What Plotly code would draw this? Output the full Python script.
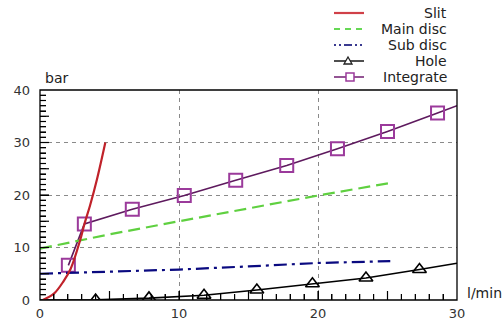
import plotly.graph_objects as go

# Pressure drop vs. flow rate for each flow element
slit_x = [0.2, 1.0, 1.7, 2.2, 2.9, 3.2, 3.6, 4.1, 4.7]
slit_y = [0.0, 1.2, 3.6, 5.9, 11.5, 14.5, 18.0, 23.0, 30.0]

main_x = [0, 5, 10, 15, 20, 25.2]
main_y = [9.8, 12.5, 15.0, 17.5, 19.9, 22.3]

sub_x = [0, 5, 10, 15, 20, 25.2]
sub_y = [5.0, 5.4, 5.8, 6.4, 7.05, 7.4]

hole_x = [0, 2, 4.0, 7.84, 11.8, 15.6, 19.6, 23.45, 27.3, 30]
hole_y = [0, 0, 0.05, 0.35, 0.9, 1.9, 3.1, 4.2, 5.8, 7.0]
hole_mx = [4.0, 7.84, 11.8, 15.6, 19.6, 23.45, 27.3]
hole_my = [0.0, 0.4, 0.9, 1.9, 3.1, 4.2, 5.8]

integ_x = [2.04, 3.19, 6.64, 10.38, 14.08, 17.75, 21.4, 25.0, 28.6, 30]
integ_y = [6.6, 14.5, 17.3, 19.9, 22.8, 25.6, 28.8, 32.1, 35.6, 37.0]
integ_mx = integ_x[:-1]
integ_my = integ_y[:-1]

X_MAX, Y_MAX = 30, 40
X_DTICK, Y_DTICK = 10, 10

legend_names = ["Slit", "Main disc", "Sub disc", "Hole", "Integrate"]

FONT = "DejaVu Sans"
W, H = 503, 325
ML, MR, MT, MB = 40, 46, 90, 25
PX_PER_X = (W - ML - MR) / X_MAX
PX_PER_Y = (H - MT - MB) / Y_MAX

fig = go.Figure()

fig.add_trace(go.Scatter(x=integ_x, y=integ_y, mode="lines",
                         line=dict(color="#5e1a5e", width=1.6)))
fig.add_trace(go.Scatter(x=integ_mx, y=integ_my, mode="markers",
                         marker=dict(symbol="square-open", size=13,
                                     color="#9b3a9b", line=dict(width=2))))
fig.add_trace(go.Scatter(x=main_x, y=main_y, mode="lines",
                         line=dict(color="#5fd040", width=2.2, dash="12px,6px")))
fig.add_trace(go.Scatter(x=sub_x, y=sub_y, mode="lines",
                         line=dict(color="#0a0a80", width=2.2,
                                   dash="13px,5px,3px,5px")))
fig.add_trace(go.Scatter(x=hole_x, y=hole_y, mode="lines",
                         line=dict(color="#000000", width=1.6)))
fig.add_trace(go.Scatter(x=hole_mx, y=hole_my, mode="markers",
                         marker=dict(symbol="triangle-up-open", size=12,
                                     color="#000000", line=dict(width=1.6))))
fig.add_trace(go.Scatter(x=slit_x, y=slit_y, mode="lines",
                         line=dict(color="#c0222a", width=2.2, shape="spline")))

# inward tick marks on the bottom and left edges: every unit, longer every 5
SHORT_PX, LONG_PX = 6, 9
tx, ty = [], []
for v in range(1, X_MAX):
    ln = (LONG_PX if v % 5 == 0 else SHORT_PX) / PX_PER_Y
    tx += [v, v, None]
    ty += [0, ln, None]
for v in range(1, Y_MAX):
    ln = (LONG_PX if v % 5 == 0 else SHORT_PX) / PX_PER_X
    tx += [0, ln, None]
    ty += [v, v, None]
fig.add_trace(go.Scatter(x=tx, y=ty, mode="lines", hoverinfo="skip",
                         line=dict(color="#000000", width=1.2)))

axis_common = dict(showline=False, zeroline=False, automargin=False,
                   ticks="inside", ticklen=LONG_PX, tickcolor="#000000",
                   tickwidth=1,
                   minor=dict(dtick=1, ticks="inside", ticklen=SHORT_PX,
                              tickcolor="#000000", tickwidth=1,
                              showgrid=False),
                   showgrid=True, gridcolor="#8a8a8a", gridwidth=1,
                   griddash="4px,4px",
                   tickfont=dict(family=FONT, size=13, color="#333333"))

fig.update_layout(
    width=W, height=H,
    margin=dict(l=ML, r=MR, t=MT, b=MB, autoexpand=False),
    paper_bgcolor="white", plot_bgcolor="white",
    showlegend=False,
    xaxis=dict(range=[0, X_MAX], dtick=X_DTICK, ticklabelstandoff=4,
               **axis_common),
    yaxis=dict(range=[0, Y_MAX], dtick=Y_DTICK, ticklabelstandoff=9,
               **axis_common),
)


def px_x(p):
    return (p - ML) / (W - ML - MR)


def px_y(p):
    return (H - MB - p) / (H - MT - MB)


annotations = [
    dict(text="bar", x=px_x(43), y=px_y(78), xanchor="left", yanchor="middle"),
    dict(text="l/min", x=px_x(465), y=px_y(293), xanchor="left", yanchor="middle"),
]

# plot frame
shapes = [dict(type="rect", xref="paper", yref="paper", x0=0, x1=1, y0=0, y1=1,
               line=dict(color="#000000", width=1.3), layer="above")]

# legend drawn by hand: symbol on the left, label right-aligned
rows = [13, 29, 45, 61, 77]
sym_x0, sym_x1 = px_x(334), px_x(364)
styles = [
    dict(color="#d04048", width=2.2, dash="solid"),
    dict(color="#66d855", width=2.2, dash="6px,5px"),
    dict(color="#3a3a90", width=2.2, dash="2px,3px,2px,3px,8px,3px"),
    dict(color="#222222", width=1.6, dash="solid"),
    dict(color="#7a2a7a", width=1.6, dash="solid"),
]
for name, ry, st in zip(legend_names, rows, styles):
    yy = px_y(ry)
    shapes.append(dict(type="line", xref="paper", yref="paper",
                       x0=sym_x0, x1=sym_x1, y0=yy, y1=yy, line=st))
    annotations.append(dict(text=name, x=px_x(449), y=yy, xanchor="right",
                            yanchor="middle"))

shapes.append(dict(type="path", xref="paper", yref="paper",
                   xsizemode="pixel", ysizemode="pixel",
                   xanchor=px_x(348), yanchor=px_y(61),
                   path="M -4 -3 L 4 -3 L 0 4 Z",
                   fillcolor="white", line=dict(color="#222222", width=1.3)))
shapes.append(dict(type="rect", xref="paper", yref="paper",
                   xsizemode="pixel", ysizemode="pixel",
                   xanchor=px_x(350), yanchor=px_y(77),
                   x0=-4, x1=4, y0=-4, y1=4,
                   fillcolor="white", line=dict(color="#9b3a9b", width=1.5)))

for a in annotations:
    a.update(xref="paper", yref="paper", showarrow=False,
             font=dict(family=FONT, size=14, color="#222222"))

fig.update_layout(annotations=annotations, shapes=shapes)

fig.write_html("out.html")
